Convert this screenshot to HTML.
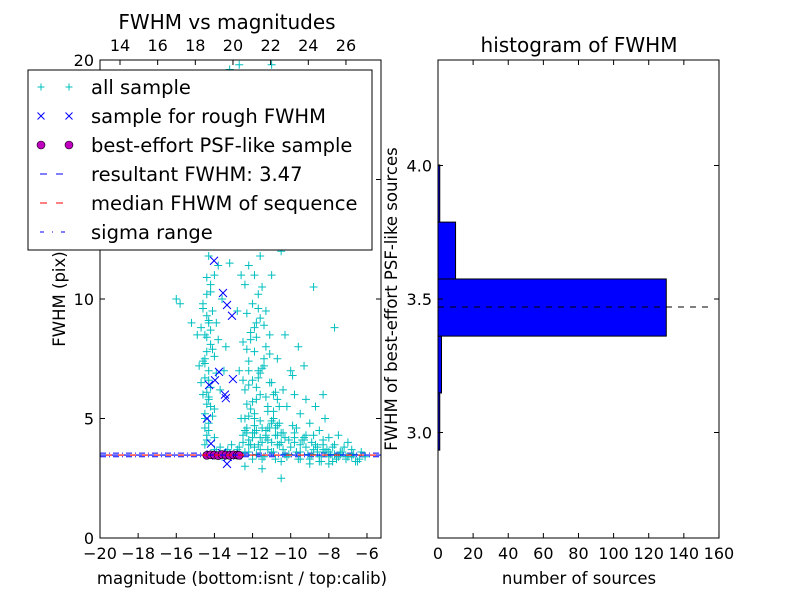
<!DOCTYPE html>
<html><head><meta charset="utf-8"><style>
body{margin:0;background:#fff}
svg{font-family:"DejaVu Sans","Liberation Sans",sans-serif}
</style></head><body>
<svg id="chart" width="800" height="600" viewBox="0 0 800 600">
<rect width="800" height="600" fill="#fff"/>
<g id="left"></g>
<g id="right"></g>
</svg>
<script>
// ---- data ----
const allSampleMag = [-14.5,-14.4,-14.3,-14.5,-14.4,-14.6,-14.2,-14.5,-14.3,-14.6,-14.4,-14.2,-14.5,-14.7,-14.3,-14.1,-14.6,-14.4,-14.2,-14.0,-13.8,-14.3,-13.9,-14.1,-14.8,-14.0,-13.8,-14.0,-13.7,-13.5,-13.9,-13.6,-14.5,-14.3,-14.7,-13.4,-13.2,-13.5,-15.8,-16.0,-15.2,-14.9,-13.0,-13.6,-14.2,-13.3,
-12.2,-12.0,-12.3,-11.9,-12.1,-11.8,-12.4,-12.0,-11.7,-12.2,-11.9,-12.5,-12.1,-11.8,-12.3,-12.0,-11.7,-12.4,-11.9,-12.2,-11.6,-12.1,-11.8,-12.3,-11.5,-12.0,-11.7,-12.2,-11.4,-11.9,-12.1,-11.6,-11.2,-12.0,-11.5,-11.0,-13.2,-12.7,-11.3,-11.1,-11.4,-11.0,-11.2,-10.9,-12.6,-12.7,-12.8,-12.6,-11.3,-11.0,-10.8,-10.5,-11.5,-11.6,-10.7,-10.4,-10.2,-10.0,-9.8,-9.5,-9.2,-9.0,-8.7,-8.5,-8.2,-10.6,-10.9,-11.2,-9.7,-10.3,-9.6,-9.9,-9.3,-8.0,-7.5,-7.0,-8.3,-7.7,-8.8,-7.2,-6.8,-6.3,
-14.2,-13.9,-13.6,-13.3,-13.0,-12.7,-12.4,-12.1,-11.8,-11.5,-11.2,-10.9,-10.6,-10.3,-10.0,-9.7,-9.4,-9.1,-8.8,-8.5,-8.2,-7.9,-7.6,-7.3,-7.0,-6.7,-6.4,-6.1,
-12.5,-12.2,-11.9,-11.6,-11.3,-11.0,-10.7,-10.4,-10.1,-9.8,-9.5,-9.2,-8.9,-8.6,-8.3,-8.0,-7.7,-7.4,-7.1,-6.8,-6.5,
-12.0,-11.7,-11.4,-11.1,-10.8,-10.5,-10.2,-9.9,-9.6,-9.3,-9.0,-8.7,-8.4,-8.1,-7.8,-7.5,
-10.5,-12.4,-11.5,-9.0,-8.0,-6.6,
-12.4,-12.2,-12.0,-11.8,-11.6,-11.4,-11.2,-11.0,-10.8,-10.6,-12.3,-12.1,-11.9,-11.7,-11.5,-11.3,-11.1,-10.9,-10.7,-10.5,-12.5,-12.2,-11.9,-11.6,-11.3,-11.0,-10.7,-12.4,-12.0,-11.6,-11.2,-10.8,-12.3,-11.9,-11.5,-11.1,-12.2,-11.8,-11.4,-11.7,
-14.0,-13.7,-13.4,-13.1,-12.8,-12.5,-12.2,-11.9,-11.6,-11.3,-11.0,-10.7,-10.4,-10.1,-9.8,-9.5,-9.2,-8.9,-8.6,-8.3,-8.0,-7.7,-7.4,-7.1,-6.8,-12.3,-11.8,-11.3,-10.8,-10.3,-9.8,-9.3,-8.8,-8.3,-7.8,-7.3,-11.5,-10.5,-9.5,-8.5,
-14.4,-14.3,-14.5,-14.2,-14.4,-14.3,-14.5,-14.1,-14.4,-14.3,-14.6,-14.2,-14.4,-14.0,-14.3,-14.5,-13.9,-14.2,-14.4,-14.1];
const allSampleFwhm = [3.9,4.3,4.8,5.2,5.6,6.0,6.3,6.7,7.0,7.4,7.8,8.1,8.5,8.8,9.1,9.5,9.8,10.2,10.6,11.0,11.4,11.8,12.2,12.6,7.2,7.6,8.3,5.4,6.2,7.0,9.0,10.0,4.6,5.9,6.5,8.0,11.5,12.8,9.8,10.0,9.0,8.5,12.5,13.5,14.0,13.0,
3.9,4.2,4.6,5.0,5.4,5.8,6.2,6.6,7.0,7.4,7.8,8.2,8.6,9.0,9.4,9.8,10.2,10.6,11.0,11.4,11.8,12.2,12.6,13.0,13.4,13.8,14.3,14.8,15.2,15.7,16.2,16.8,17.5,18.2,19.0,19.8,19.6,19.8,9.5,8.5,7.2,6.5,5.5,5.0,5.0,7.0,9.5,11.0,12.5,11.0,13.5,12.0,10.5,6.0,7.5,6.2,5.5,7.0,6.0,5.2,5.8,4.8,5.5,4.5,5.0,4.8,6.0,4.6,4.6,8.5,8.0,6.8,7.2,4.2,4.3,4.0,6.0,8.8,10.5,3.8,3.7,3.6,
3.5,3.6,3.4,3.7,3.5,3.8,3.6,3.9,3.5,4.0,3.7,3.6,3.9,3.5,3.8,3.6,4.1,3.5,3.7,3.4,3.6,3.5,3.3,3.6,3.4,3.5,3.3,3.4,
4.3,4.1,4.4,4.2,4.5,4.0,4.3,4.4,4.1,4.2,3.9,4.3,4.0,3.8,4.1,3.6,3.9,3.5,3.3,3.4,3.2,
3.3,3.9,3.4,4.6,3.3,4.0,3.4,4.7,3.3,4.2,3.3,3.9,3.2,3.7,3.2,3.4,
2.5,3.0,2.9,3.1,3.1,3.2,
4.5,5.1,5.7,6.3,6.9,7.5,5.3,4.9,6.1,5.5,7.9,8.3,4.7,6.7,7.1,5.9,6.5,5.3,4.7,4.4,6.6,7.0,8.8,9.2,8.0,4.8,5.8,5.0,4.4,4.9,4.1,4.3,5.6,5.2,4.6,7.7,6.4,8.4,8.9,9.6,
3.7,3.8,3.6,3.9,3.7,4.0,3.6,3.8,3.7,4.2,3.6,3.9,3.7,3.5,4.0,3.6,3.8,3.5,3.6,3.7,3.4,3.5,3.6,3.4,3.5,4.4,4.5,4.3,4.6,4.2,4.4,4.1,4.3,3.9,3.8,3.6,3.3,3.2,3.3,3.2,
4.1,4.5,5.0,5.5,6.1,6.6,7.3,7.9,8.4,9.0,9.6,10.3,10.9,4.2,5.8,7.5,6.9,8.7,9.3,5.1];
const roughMag = [-14.02,-13.55,-13.34,-13.08,-13.76,-13.97,-14.28,-13.03,-13.45,-13.4,-14.39,-14.18,-13.34,-14.2,-13.9,-13.6,-13.3,-13.0,-12.8];
const roughFwhm = [11.6,10.25,9.75,9.3,6.95,6.6,6.4,6.65,6.0,5.85,5.0,3.95,3.1,3.5,3.45,3.55,3.4,3.5,3.45];
const bestMag = [-14.4,-14.2,-14.0,-13.8,-13.6,-13.4,-13.2,-13.0,-12.8,-12.7];
const bestFwhm = [3.46,3.48,3.47,3.45,3.49,3.47,3.46,3.48,3.47,3.46];
const resultFwhm = 3.47, medianFwhm = 3.47, sigmaLo = 3.40, sigmaHi = 3.55;
const xTicks = [-20,-18,-16,-14,-12,-10,-8,-6];
const yTicks = [0,5,10,15,20];
const topTicks = [14,16,18,20,22,24,26];
const binEdges = [2.934,3.148,3.361,3.575,3.788,4.002];
const binCounts = [1,2,130,10,1];
const histXTicks = [0,20,40,60,80,100,120,140,160];
const histYTicks = [3.0,3.5,4.0];

const NS="http://www.w3.org/2000/svg";
function mk(parent,tag,attrs,text){const e=document.createElementNS(NS,tag);for(const k in attrs)e.setAttribute(k,attrs[k]);if(text!==undefined)e.textContent=text;parent.appendChild(e);return e;}
const L=document.getElementById('left'), R=document.getElementById('right');
const xL=m=>100+(m+20)*19.07, yL=f=>538-f*23.9, xTop=v=>120+(v-14)*18.83;
const xR=n=>438+n*1.756, yR=v=>299-(v-3.5)*267;
const TF=16, LF=16.5, HF=20, GF=19.5;

const defs=mk(L,'defs',{});const cp=mk(defs,'clipPath',{id:'cl'});mk(cp,'rect',{x:100,y:60,width:281,height:478});
const plot=mk(L,'g',{'clip-path':'url(#cl)'});


let ln=mk(plot,'line',{x1:100,x2:381,y1:yL(sigmaLo),y2:yL(sigmaLo),stroke:'#00f','stroke-width':1,'stroke-dasharray':'6,3,1,3'});

ln=mk(plot,'line',{x1:100,x2:381,y1:yL(sigmaHi),y2:yL(sigmaHi),stroke:'#00f','stroke-width':1,'stroke-dasharray':'6,3,1,3'});

allSampleMag.forEach((m,i)=>{const x=xL(m),y=yL(allSampleFwhm[i]);
 const p=mk(plot,'path',{d:`M${x-4},${y}H${x+4}M${x},${y-4}V${y+4}`,stroke:'#00bfbf','stroke-width':1});
 });
roughMag.forEach((m,i)=>{const x=xL(m),y=yL(roughFwhm[i]);
 const p=mk(plot,'path',{d:`M${x-4},${y-4}L${x+4},${y+4}M${x-4},${y+4}L${x+4},${y-4}`,stroke:'#00f','stroke-width':1});
 });
bestMag.forEach((m,i)=>{const c=mk(plot,'circle',{cx:xL(m),cy:yL(bestFwhm[i]),r:4,fill:'#bf00bf',stroke:'#000','stroke-width':0.6});
 });
ln=mk(plot,'line',{x1:100,x2:381,y1:yL(resultFwhm),y2:yL(resultFwhm),stroke:'#00f','stroke-width':1.2,'stroke-dasharray':'6,6'});

ln=mk(plot,'line',{x1:106,x2:381,y1:yL(medianFwhm),y2:yL(medianFwhm),stroke:'#f00','stroke-width':1.2,'stroke-dasharray':'6,6'});


let fr=mk(L,'rect',{x:100,y:60,width:281,height:478,fill:'none',stroke:'#000','stroke-width':1});

xTicks.forEach(v=>{const x=xL(v);mk(L,'line',{x1:x,x2:x,y1:538,y2:533,stroke:'#000'});
 const t=mk(L,'text',{x:x,y:559,'font-size':TF,'text-anchor':'middle'},'\u2212'+Math.abs(v));
 });
yTicks.forEach(v=>{const y=yL(v);mk(L,'line',{x1:100,x2:105,y1:y,y2:y,stroke:'#000'});mk(L,'line',{x1:381,x2:376,y1:y,y2:y,stroke:'#000'});
 const t=mk(L,'text',{x:94,y:y+6,'font-size':TF,'text-anchor':'end'},String(v));
 });
topTicks.forEach(v=>{const x=xTop(v);mk(L,'line',{x1:x,x2:x,y1:60,y2:65,stroke:'#000'});
 const t=mk(L,'text',{x:x,y:51,'font-size':TF,'text-anchor':'middle'},String(v));
 });
let t=mk(L,'text',{x:227,y:29,'font-size':HF,'text-anchor':'middle'},'FWHM vs magnitudes');

t=mk(L,'text',{x:242,y:584,'font-size':LF,'text-anchor':'middle'},'magnitude (bottom:isnt / top:calib)');

t=mk(L,'text',{x:0,y:0,'font-size':LF,'text-anchor':'middle',transform:'translate(65,299) rotate(-90)'},'FWHM (pix)');


const lg=mk(L,'g',{});

mk(lg,'rect',{x:28,y:70,width:344,height:180,fill:'#fff',stroke:'#000'});
const items=['all sample','sample for rough FWHM','best-effort PSF-like sample','resultant FWHM: 3.47','median FHWM of sequence','sigma range'];
items.forEach((s,i)=>{const y=87+i*29;const e=mk(lg,'g',{});
 
 [41,69].forEach(x=>{
  if(i==0)mk(e,'path',{d:`M${x-3.5},${y}H${x+3.5}M${x},${y-3.5}V${y+3.5}`,stroke:'#00bfbf'});
  if(i==1)mk(e,'path',{d:`M${x-3.5},${y-3.5}L${x+3.5},${y+3.5}M${x-3.5},${y+3.5}L${x+3.5},${y-3.5}`,stroke:'#00f'});
  if(i==2)mk(e,'circle',{cx:x,cy:y,r:4,fill:'#bf00bf',stroke:'#000','stroke-width':0.6});});
 if(i==3)mk(e,'line',{x1:40,x2:70,y1:y,y2:y,stroke:'#00f','stroke-dasharray':'7,9'});
 if(i==4)mk(e,'line',{x1:40,x2:70,y1:y,y2:y,stroke:'#f00','stroke-dasharray':'7,9'});
 if(i==5)mk(e,'line',{x1:40,x2:70,y1:y,y2:y,stroke:'#00f','stroke-dasharray':'4,8,1,8'});
 mk(e,'text',{x:91,y:y+7,'font-size':GF},s);});

binCounts.forEach((c,i)=>{const r=mk(R,'rect',{x:438,y:yR(binEdges[i+1]),width:xR(c)-438,height:yR(binEdges[i])-yR(binEdges[i+1]),fill:'#00f',stroke:'#000','stroke-width':1});
 });
ln=mk(R,'line',{x1:438,x2:712,y1:yR(resultFwhm),y2:yR(resultFwhm),stroke:'#000','stroke-dasharray':'6,6'});

fr=mk(R,'rect',{x:438,y:60,width:281,height:478,fill:'none',stroke:'#000'});

histXTicks.forEach(v=>{const x=xR(v);mk(R,'line',{x1:x,x2:x,y1:538,y2:533,stroke:'#000'});mk(R,'line',{x1:x,x2:x,y1:60,y2:65,stroke:'#000'});
 const t=mk(R,'text',{x:x,y:559,'font-size':TF,'text-anchor':'middle'},String(v));
 });
histYTicks.forEach(v=>{const y=yR(v);mk(R,'line',{x1:438,x2:443,y1:y,y2:y,stroke:'#000'});mk(R,'line',{x1:719,x2:714,y1:y,y2:y,stroke:'#000'});
 const t=mk(R,'text',{x:432,y:y+6,'font-size':TF,'text-anchor':'end'},v.toFixed(1));
 });
t=mk(R,'text',{x:579,y:52,'font-size':HF,'text-anchor':'middle'},'histogram of FWHM');

t=mk(R,'text',{x:579,y:584,'font-size':LF,'text-anchor':'middle'},'number of sources');

t=mk(R,'text',{x:0,y:0,'font-size':LF,'text-anchor':'middle',transform:'translate(397,299) rotate(-90)'},'FWHM of best-effort PSF-like sources');

</script>
</body></html>
